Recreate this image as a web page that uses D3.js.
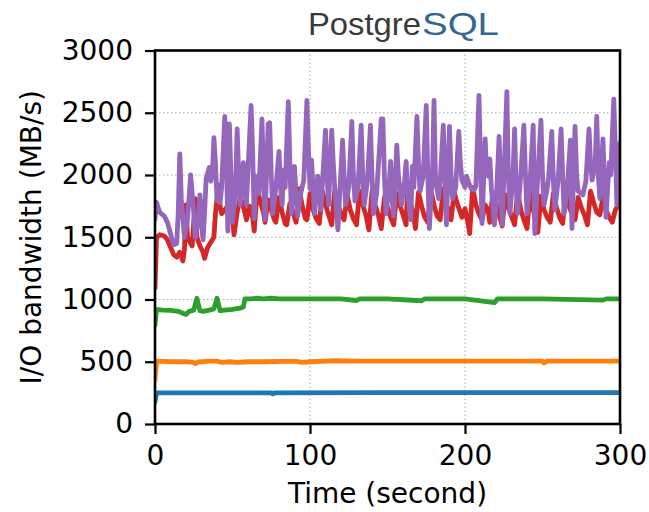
<!DOCTYPE html>
<html>
<head>
<meta charset="utf-8">
<script src="https://cdn.jsdelivr.net/npm/d3@7"></script>
<style>
  html, body { margin: 0; padding: 0; background: #fff; }
  svg { display: block; }
</style>
</head>
<body>
<div id="chart"></div>
<script>
// ---------------- data ----------------
const xTicks = [0, 100, 200, 300];
const yTicks = [0, 500, 1000, 1500, 2000, 2500, 3000];
const titleParts = ["Postgre", "SQL"];
const xLabel = "Time (second)";
const yLabel = "I/O bandwidth (MB/s)";

const blueT = [0, 1, 75, 76, 77, 140, 300];
const blueV = [180, 250, 250, 242, 250, 252, 252];

const orangeT = [0, 1, 10, 20, 25, 26, 28, 35, 40, 43, 48, 53, 60, 70, 90, 95, 100, 110, 115, 130, 250, 251, 253, 300];
const orangeV = [360, 505, 500, 500, 495, 485, 498, 505, 505, 495, 500, 495, 500, 500, 505, 495, 500, 505, 508, 505, 505, 490, 505, 505];

const greenT = [0, 1, 5, 10, 15, 18, 20, 22, 25, 27, 29, 31, 35, 38, 40, 42, 45, 50, 55, 57, 58, 62, 65, 70, 75, 80, 100, 120, 130, 132, 140, 150, 172, 174, 200, 219, 221, 250, 289, 291, 300];
const greenV = [800, 920, 915, 912, 905, 890, 880, 905, 915, 1010, 910, 905, 915, 925, 1010, 910, 915, 920, 930, 940, 1005, 1005, 1010, 1005, 1010, 1005, 1005, 1005, 992, 1005, 1005, 1005, 990, 1005, 1005, 975, 1005, 1005, 995, 1005, 1005];

const redT = [0, 1, 3, 6, 8, 10, 12, 14, 16, 18, 19, 20, 21, 23, 24, 26, 27, 29, 31, 32, 34, 36, 38, 39, 41, 42, 43, 45, 47, 48, 50, 51, 53, 55, 57, 59, 61, 63, 64, 66, 68, 70, 71, 73, 75, 77, 78, 80, 82, 84, 85, 87, 89, 91, 93, 95, 97, 98, 100, 102, 104, 106, 108, 110, 112, 114, 116, 118, 120, 122, 124, 126, 128, 130, 132, 134, 136, 138, 140, 142, 144, 146, 148, 150, 152, 154, 156, 158, 160, 162, 163, 165, 167, 168, 170, 172, 174, 176, 178, 180, 182, 184, 186, 188, 190, 191, 193, 195, 197, 198, 200, 202, 203, 205, 207, 209, 211, 213, 215, 216, 218, 220, 222, 224, 226, 228, 230, 232, 234, 236, 238, 240, 242, 244, 246, 247, 249, 251, 253, 255, 257, 259, 261, 263, 265, 267, 269, 271, 273, 275, 277, 279, 281, 283, 285, 287, 289, 291, 293, 295, 297, 299, 300];
const redV = [1100, 1500, 1520, 1510, 1480, 1420, 1360, 1340, 1380, 1310, 1400, 1760, 1500, 1450, 1430, 1810, 1500, 1430, 1380, 1330, 1420, 1460, 1500, 1690, 1920, 1750, 1690, 1720, 1750, 1830, 1650, 1520, 1700, 1820, 1750, 1640, 1750, 1660, 1550, 1890, 1780, 1700, 1620, 1800, 1720, 1640, 1620, 1820, 1700, 1610, 1600, 1770, 1700, 1620, 1890, 1750, 1650, 1640, 1850, 1720, 1650, 1610, 1870, 1760, 1680, 1600, 1880, 1760, 1690, 1640, 1840, 1720, 1650, 1600, 1870, 1760, 1680, 1560, 1870, 1760, 1680, 1570, 1820, 1740, 1660, 1600, 1850, 1760, 1680, 1600, 1900, 1770, 1660, 1570, 1860, 1750, 1660, 1620, 1880, 1760, 1670, 1640, 1890, 1760, 1700, 1640, 1860, 1770, 1700, 1660, 1730, 1610, 1530, 1900, 1760, 1690, 1640, 1760, 1710, 1620, 1860, 1780, 1680, 1590, 1840, 1740, 1670, 1600, 1860, 1720, 1640, 1570, 1860, 1720, 1620, 1540, 1830, 1720, 1660, 1620, 1850, 1740, 1660, 1610, 1850, 1750, 1690, 1640, 1820, 1740, 1680, 1600, 1870, 1780, 1700, 1680, 1820, 1720, 1660, 1620, 1720, 1760, 1750];

const purpleT = [0, 1, 3, 6, 8, 10, 12, 14, 15, 16, 17, 19, 21, 23, 25, 26, 28, 29, 30, 31, 32, 33, 35, 36, 37, 38, 39, 40, 42, 43, 45, 46, 47, 48, 49, 50, 52, 53, 54, 55, 57, 58, 59, 60, 62, 63, 64, 65, 67, 69, 70, 71, 73, 74, 75, 76, 78, 80, 81, 82, 83, 84, 86, 87, 88, 90, 91, 92, 94, 96, 98, 99, 100, 101, 103, 105, 106, 107, 110, 111, 112, 114, 115, 116, 118, 121, 122, 123, 125, 127, 128, 129, 131, 133, 134, 135, 137, 139, 140, 141, 143, 146, 147, 148, 149, 151, 152, 153, 154, 156, 157, 159, 161, 162, 163, 165, 166, 167, 169, 170, 171, 173, 175, 176, 177, 179, 180, 181, 183, 184, 186, 187, 188, 190, 191, 192, 194, 196, 197, 198, 200, 201, 203, 204, 206, 207, 209, 210, 211, 213, 214, 215, 216, 217, 219, 220, 222, 223, 224, 226, 227, 228, 229, 231, 232, 233, 234, 236, 238, 239, 240, 242, 244, 245, 247, 249, 250, 251, 253, 254, 256, 257, 258, 260, 262, 263, 264, 266, 268, 269, 271, 272, 273, 275, 276, 278, 280, 281, 282, 284, 285, 286, 287, 289, 290, 291, 293, 294, 296, 297, 298, 299, 300];
const purpleV = [1650, 1780, 1700, 1670, 1620, 1530, 1440, 1450, 1700, 2170, 1800, 1500, 1650, 2000, 1700, 1500, 1650, 1840, 1600, 1480, 1700, 1970, 2060, 1950, 2000, 2300, 2100, 1800, 1780, 1900, 2470, 2200, 1550, 2410, 2000, 1620, 1900, 2370, 2000, 1760, 2100, 1900, 1760, 2040, 2560, 2200, 1650, 1990, 1850, 2450, 2000, 1640, 2410, 2420, 2000, 1690, 1900, 2190, 1900, 1760, 2040, 1900, 2590, 2100, 1690, 2070, 1850, 1670, 1850, 1960, 2600, 2200, 1890, 2120, 1690, 1990, 1850, 1720, 2360, 2000, 1760, 2360, 2100, 1890, 1560, 2280, 2000, 1760, 1900, 2430, 2000, 1790, 1900, 2400, 2000, 1760, 1950, 2400, 2000, 1690, 1850, 2450, 2450, 2000, 1690, 1900, 2110, 1800, 1670, 2240, 2000, 1760, 1950, 2110, 1850, 1640, 2070, 1900, 2470, 2100, 1870, 1990, 2560, 2000, 1570, 2000, 2600, 1960, 1810, 1950, 2400, 2000, 1600, 2390, 2000, 1810, 1900, 2350, 2100, 1960, 1900, 1990, 1920, 1890, 1880, 1910, 2640, 2100, 1610, 2290, 2000, 1990, 2130, 1900, 1600, 1750, 2310, 1900, 1600, 2300, 2670, 2000, 1690, 2000, 2370, 1900, 1690, 2000, 2400, 2000, 1690, 1950, 2400, 1530, 2000, 2440, 2000, 1760, 1890, 1990, 2350, 1950, 1720, 1950, 2370, 2000, 1690, 1900, 2280, 1570, 2390, 2000, 1870, 1850, 1840, 1950, 2370, 2100, 1960, 2100, 2470, 2000, 1810, 2290, 1900, 1660, 2100, 2000, 2610, 2200, 1760, 2000, 2250];

const seriesList = [
  { name: "blue",   color: "#1f77b4", t: blueT,   v: blueV },
  { name: "orange", color: "#ff7f0e", t: orangeT, v: orangeV },
  { name: "green",  color: "#2ca02c", t: greenT,  v: greenV },
  { name: "red",    color: "#d62728", t: redT,    v: redV },
  { name: "purple", color: "#9467bd", t: purpleT, v: purpleV }
];

// ---------------- layout ----------------
const W = 649, H = 512;
const margin = { left: 155, right: 649 - 620, top: 50.5, bottom: 512 - 424 };
const fontFamily = "'DejaVu Sans', sans-serif";

const svg = d3.select("#chart").append("svg")
  .attr("width", W).attr("height", H);

const x = d3.scaleLinear().domain([0, 300]).range([margin.left, W - margin.right]);
const y = d3.scaleLinear().domain([0, 3000]).range([H - margin.bottom, margin.top]);

// grid
const grid = svg.append("g");
grid.selectAll("line.gx").data(xTicks).join("line")
  .attr("x1", d => x(d)).attr("x2", d => x(d))
  .attr("y1", y(0)).attr("y2", y(3000))
  .attr("stroke", "#b0b0b0").attr("stroke-width", 1.1)
  .attr("stroke-dasharray", "1.5,2.5");
grid.selectAll("line.gy").data(yTicks).join("line")
  .attr("y1", d => y(d)).attr("y2", d => y(d))
  .attr("x1", x(0)).attr("x2", x(300))
  .attr("stroke", "#b0b0b0").attr("stroke-width", 1.1)
  .attr("stroke-dasharray", "1.5,2.5");

// lines
svg.append("clipPath").attr("id", "clip").append("rect")
  .attr("x", x(0)).attr("y", y(3000)).attr("width", x(300) - x(0)).attr("height", y(0) - y(3000));

const line = d3.line().x(d => x(d[0])).y(d => y(d[1]));
const linesG = svg.append("g").attr("clip-path", "url(#clip)");
seriesList.forEach(s => {
  const pts = s.t.map((t, i) => [t, s.v[i]]);
  linesG.append("path")
    .datum(pts)
    .attr("d", line)
    .attr("fill", "none")
    .attr("stroke", s.color)
    .attr("stroke-width", 4.8)
    .attr("stroke-linejoin", "round")
    .attr("stroke-linecap", "square");
});

// axes
const xAxis = d3.axisBottom(x).tickValues(xTicks).tickSize(10).tickPadding(11).tickFormat(d3.format("d"));
const yAxis = d3.axisLeft(y).tickValues(yTicks).tickSize(10).tickPadding(12).tickFormat(d3.format("d"));

const gx = svg.append("g").attr("transform", `translate(0,${y(0)})`).call(xAxis);
const gy = svg.append("g").attr("transform", `translate(${x(0)},0)`).call(yAxis);
[gx, gy].forEach(g => {
  g.select(".domain").remove();
  g.selectAll(".tick line").attr("stroke", "#000").attr("stroke-width", 2.2);
  g.selectAll(".tick text").attr("fill", "#000").style("font-family", fontFamily).style("font-size", "28px");
});

// frame
svg.append("rect")
  .attr("x", x(0)).attr("y", y(3000))
  .attr("width", x(300) - x(0)).attr("height", y(0) - y(3000))
  .attr("fill", "none").attr("stroke", "#000").attr("stroke-width", 2.6);

// axis labels
svg.append("text")
  .attr("x", (x(0) + x(300)) / 2).attr("y", 503)
  .attr("text-anchor", "middle")
  .style("font-family", fontFamily).style("font-size", "28px")
  .text(xLabel);

svg.append("text")
  .attr("transform", `translate(41,${(y(0) + y(3000)) / 2}) rotate(-90)`)
  .attr("text-anchor", "middle")
  .style("font-family", fontFamily).style("font-size", "28px")
  .text(yLabel);

// title logo
svg.append("text")
  .attr("x", 308).attr("y", 35)
  .attr("textLength", 113).attr("lengthAdjust", "spacingAndGlyphs")
  .style("font-family", "'Liberation Sans', Arial, sans-serif").style("font-size", "32px")
  .attr("fill", "#3a3a3a")
  .text(titleParts[0]);
svg.append("text")
  .attr("x", 422).attr("y", 35)
  .attr("textLength", 77).attr("lengthAdjust", "spacingAndGlyphs")
  .style("font-family", "'Liberation Sans', Arial, sans-serif").style("font-size", "32px")
  .attr("fill", "#336791")
  .text(titleParts[1]);
</script>
</body>
</html>
